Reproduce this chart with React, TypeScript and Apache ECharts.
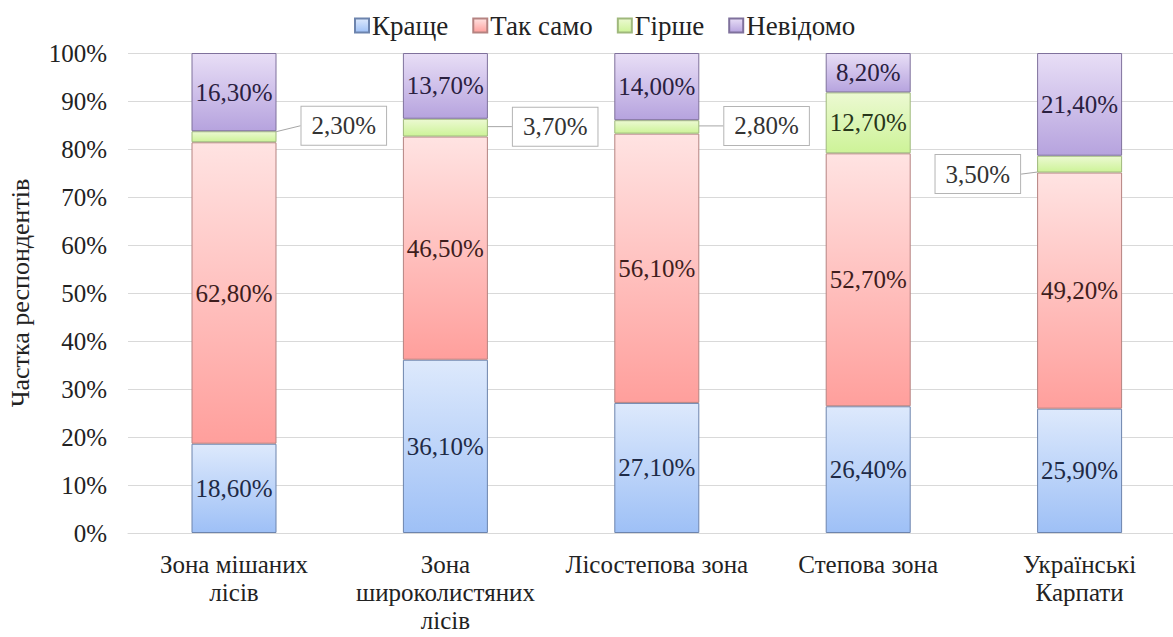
import React, { useEffect, useRef } from "react";
import * as echarts from "echarts";

const categories = [
  "Зона мішаних\nлісів",
  "Зона\nшироколистяних\nлісів",
  "Лісостепова зона",
  "Степова зона",
  "Українські\nКарпати",
];
const seriesNames = ["Краще", "Так само", "Гірше", "Невідомо"];
const better = [18.6, 36.1, 27.1, 26.4, 25.9];
const same = [62.8, 46.5, 56.1, 52.7, 49.2];
const worse = [2.3, 3.7, 2.8, 12.7, 3.5];
const unknown = [16.3, 13.7, 14.0, 8.2, 21.4];
const yTicks = [0, 10, 20, 30, 40, 50, 60, 70, 80, 90, 100];

const FONT = "Liberation Serif";

const fmt = (v: number) => v.toFixed(2).replace(".", ",") + "%";

const grad = (top: string, bottom: string) =>
  new echarts.graphic.LinearGradient(0, 0, 0, 1, [
    { offset: 0, color: top },
    { offset: 1, color: bottom },
  ]);

const styles = [
  { top: "#dde9fc", bottom: "#9ec0f6", border: "#6d84ad", text: "#1e2a46" },
  { top: "#ffe3e2", bottom: "#ff9f9c", border: "#b58381", text: "#3e1d1d" },
  { top: "#ecf9d2", bottom: "#cdf398", border: "#9fb87c", text: "#28361a" },
  { top: "#e8def6", bottom: "#b6a3de", border: "#7f719c", text: "#2a2040" },
];

// callout placement for the small "Гірше" values (style only)
const callouts: Record<number, { side: "right" | "left"; distance: number; dy: number }> = {
  0: { side: "right", distance: 25, dy: -11 },
  1: { side: "right", distance: 25, dy: -1 },
  2: { side: "right", distance: 25, dy: -1 },
  4: { side: "left", distance: 17, dy: 10 },
};

export default function App() {
  const ref = useRef<HTMLDivElement>(null);
  useEffect(() => {
    if (!ref.current) return;
    const chart = echarts.init(ref.current, undefined, { renderer: "svg" });
    const values = [better, same, worse, unknown];
    const series = values.map((vals, si) => {
      const st = styles[si];
      const data = vals.map((v, i) => {
        if (si === 2 && callouts[i]) {
          const c = callouts[i];
          return {
            value: v,
            label: {
              show: true,
              position: c.side,
              distance: c.distance,
              fontFamily: FONT,
              fontSize: 25,
              color: "#333",
              backgroundColor: "#fff",
              borderColor: "#b4b4b4",
              borderWidth: 1,
              padding: [7, 10, 6, 10],
            },
          };
        }
        return { value: v };
      });
      return {
        name: seriesNames[si],
        type: "bar",
        stack: "total",
        xAxisIndex: 1,
        yAxisIndex: 1,
        barWidth: 85,
        clip: false,
        data,
        itemStyle: {
          color: grad(st.top, st.bottom),
          borderColor: st.border,
          borderWidth: 1,
        },
        label: {
          show: true,
          position: "inside",
          formatter: (p: any) => fmt(p.value),
          fontFamily: FONT,
          fontSize: 25,
          color: st.text,
        },
        labelLine:
          si === 2
            ? { show: true, lineStyle: { color: "#a6a6a6", width: 1 } }
            : undefined,
        labelLayout:
          si === 2
            ? (p: any) => {
                const c = callouts[p.dataIndex];
                return c ? { dy: c.dy } : {};
              }
            : undefined,
      };
    });

    chart.setOption({
      animation: false,
      backgroundColor: "#fff",
      textStyle: { fontFamily: FONT },
      legend: {
        top: 7,
        left: 349,
        icon: "rect",
        itemWidth: 14,
        itemHeight: 14,
        itemGap: 24,
        textStyle: { fontFamily: FONT, fontSize: 27, color: "#222", padding: [0, 0, 0, -2] },
        data: seriesNames,
      },
      grid: [
        { left: 128, right: 0, top: 53, height: 480, containLabel: false, outerBoundsMode: "none" },
        { left: 234, width: 845.6, top: 53, height: 480, containLabel: false, outerBoundsMode: "none" },
      ],
      xAxis: [
        {
          gridIndex: 0,
          type: "value",
          min: 0,
          max: 1,
          axisLine: { show: true, lineStyle: { color: "#d9d9d9" } },
          axisTick: { show: false },
          axisLabel: { show: false },
          splitLine: { show: false },
        },
        {
          gridIndex: 1,
          type: "category",
          data: categories,
          boundaryGap: false,
          axisLine: { show: false },
          axisTick: { show: false },
          splitLine: { show: false },
          axisLabel: {
            fontFamily: FONT,
            fontSize: 25,
            lineHeight: 28,
            color: "#222",
            margin: 17,
            interval: 0,
          },
        },
      ],
      yAxis: [
        {
          gridIndex: 0,
          type: "value",
          min: yTicks[0],
          max: yTicks[yTicks.length - 1],
          interval: 10,
          name: "Частка респондентів",
          nameLocation: "middle",
          nameGap: 95,
          nameTextStyle: { fontFamily: FONT, fontSize: 26, color: "#222" },
          axisLine: { show: false },
          axisTick: { show: false },
          splitLine: { lineStyle: { color: "#d9d9d9" } },
          axisLabel: {
            fontFamily: FONT,
            fontSize: 25,
            color: "#222",
            margin: 21,
            formatter: (v: number) => v + "%",
          },
        },
        {
          gridIndex: 1,
          type: "value",
          min: yTicks[0],
          max: yTicks[yTicks.length - 1],
          interval: 10,
          show: false,
        },
      ],
      series,
    });
    return () => chart.dispose();
  }, []);
  return (
    <div
      ref={ref}
      style={{ position: "fixed", left: 0, top: 0, width: 1173, height: 637, background: "#fff" }}
    />
  );
}
